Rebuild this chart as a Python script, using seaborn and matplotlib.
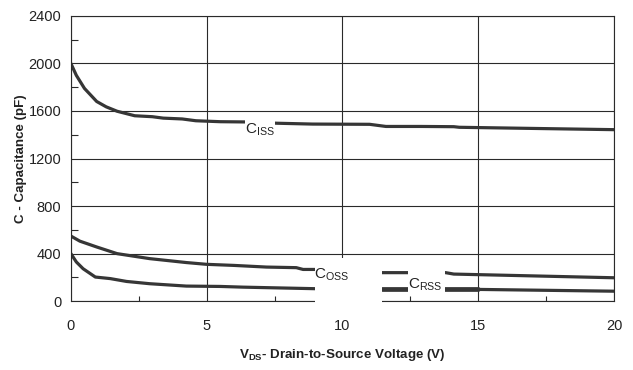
import matplotlib
matplotlib.use("Agg")
import matplotlib.pyplot as plt
from matplotlib import font_manager
from matplotlib.patches import Rectangle
from matplotlib.ticker import MultipleLocator
import numpy as np
import pandas as pd
import seaborn as sns

# Capacitance vs. drain-to-source voltage (pF)
ciss_v = [0, 0.2, 0.5, 0.95, 1.3, 1.7, 2.35, 3.0, 3.4, 4.1, 4.6, 5.5, 6.4,
          7.6, 8.9, 11.0, 11.6, 12.9, 14.1, 14.3, 17.4, 20]
ciss_c = [2000, 1900, 1790, 1680, 1635, 1598, 1560, 1552, 1540, 1533, 1518,
          1510, 1508, 1497, 1490, 1488, 1470, 1470, 1468, 1463, 1452, 1443]

coss_v = [0, 0.33, 0.95, 1.7, 2.9, 4.25, 5.0, 6.0, 7.2, 8.3, 8.55, 9.0,
          11.45, 13.8, 14.1, 20]
coss_c = [548, 505, 456, 400, 358, 325, 310, 301, 287, 282, 267, 267,
          240, 240, 228, 197]

crss_v = [0, 0.2, 0.45, 0.9, 1.45, 2.05, 2.9, 4.25, 5.5, 6.35, 9.0, 11.45,
          15.0, 20]
crss_c = [400, 330, 273, 203, 190, 166, 147, 127, 124, 118, 105, 99, 99, 84]

x_ticks = [0, 5, 10, 15, 20]
y_ticks = [0, 400, 800, 1200, 1600, 2000, 2400]

series_names = ["Ciss", "Coss", "Crss"]

df = pd.concat([
    pd.DataFrame({"V": ciss_v, "C": ciss_c, "series": "Ciss"}),
    pd.DataFrame({"V": coss_v, "C": coss_c, "series": "Coss"}),
    pd.DataFrame({"V": crss_v, "C": crss_c, "series": "Crss"}),
], ignore_index=True)

sns.set_theme(style="white")
plt.rcParams["font.family"] = ["Liberation Sans", "DejaVu Sans"]
plt.rcParams["mathtext.fontset"] = "custom"
plt.rcParams["mathtext.rm"] = "Liberation Sans"
plt.rcParams["mathtext.bf"] = "Liberation Sans:bold"

# condensed face for the axis titles when available
installed = {f.name for f in font_manager.fontManager.ttflist}
title_family = "Liberation Sans Narrow" if "Liberation Sans Narrow" in installed else "Liberation Sans"
title_size = 10.5 if title_family == "Liberation Sans Narrow" else 9.6
if title_family == "Liberation Sans Narrow":
    plt.rcParams["mathtext.bf"] = "Liberation Sans Narrow:bold"

LINE = "#363636"
GRID = "#2a2a2a"

fig = plt.figure(figsize=(6.33, 3.70), dpi=100)
ax = fig.add_axes([0.112, 0.186, 0.858, 0.771])

sns.lineplot(data=df, x="V", y="C", hue="series", hue_order=series_names,
             palette=[LINE] * 3, estimator=None, sort=False, linewidth=2.3,
             legend=False, ax=ax, zorder=2)

# heavier stretch of the Crss trace
crss_df = df[df["series"] == "Crss"]
heavy = crss_df[(crss_df["V"] >= 11.4) & (crss_df["V"] <= 15.0)]
sns.lineplot(data=heavy, x="V", y="C", color=LINE, estimator=None, sort=False,
             linewidth=3.4, legend=False, ax=ax, zorder=2)

ax.set_xlim(0, 20)
ax.set_ylim(0, 2400)
ax.set_xticks(x_ticks)
ax.set_yticks(y_ticks)
ax.set_xticklabels([str(t) for t in x_ticks], fontsize=10.5, color="#222222")
ax.set_yticklabels([str(t) for t in y_ticks], fontsize=10.5, color="#222222")
ax.xaxis.set_minor_locator(MultipleLocator(2.5))
ax.yaxis.set_minor_locator(MultipleLocator(200))
ax.tick_params(axis="both", which="major", length=0)
ax.tick_params(axis="x", which="major", pad=13)
ax.tick_params(axis="y", which="major", pad=7)
ax.tick_params(axis="x", which="minor", direction="in", length=3.5,
               width=0.8, color=GRID, bottom=True)
ax.tick_params(axis="y", which="minor", direction="in", length=5,
               width=0.8, color=GRID, left=True)

ax.grid(True, which="major", color=GRID, linewidth=0.8)
for s in ax.spines.values():
    s.set_visible(True)
    s.set_color(GRID)
    s.set_linewidth(0.8)

ax.set_xlabel(r"$\mathbf{V_{DS}}$- Drain-to-Source Voltage (V)",
              fontsize=title_size, fontweight="bold", labelpad=10,
              color="#222222", family=title_family)
ax.set_ylabel("C - Capacitance (pF)", fontsize=title_size, fontweight="bold",
              labelpad=1, color="#222222", family=title_family)

# curve labels on white boxes that break the traces
label_boxes = [
    # text, text x, text y, box (x0, y0, x1, y1)
    (r"C$_{\mathregular{ISS}}$", 6.95, 1445, (6.42, 1370, 7.52, 1560)),
    (r"C$_{\mathregular{OSS}}$", 9.6, 225, (9.0, -40, 11.45, 360)),
    (r"C$_{\mathregular{RSS}}$", 13.05, 140, (12.42, 60, 13.77, 290)),
]
for text, tx, ty, (x0, y0, x1, y1) in label_boxes:
    ax.add_patch(Rectangle((x0, y0), x1 - x0, y1 - y0, facecolor="white",
                           edgecolor="none", zorder=4, clip_on=False))
    ax.text(tx, ty, text, fontsize=11, ha="center", va="center",
            color="#222222", zorder=5)

fig.savefig("out.png", dpi=100, facecolor="white")
